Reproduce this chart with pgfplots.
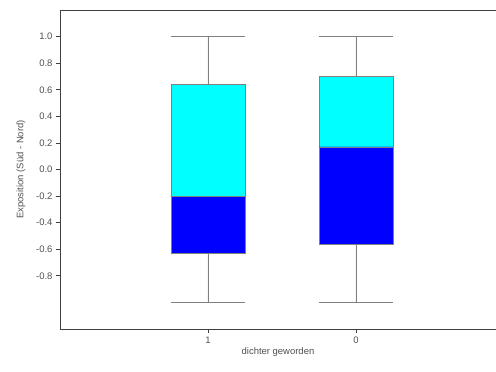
\documentclass[border=0pt]{standalone}
\usepackage{pgfplots}
\pgfplotsset{compat=1.18}
\usepgfplotslibrary{statistics}
\usepackage{fontspec}
\setmainfont{Liberation Sans}
\definecolor{axgray}{HTML}{404040}
\definecolor{txtgray}{HTML}{505050}
\definecolor{boxedge}{HTML}{808080}
\definecolor{cyanbox}{HTML}{00FFFF}
\definecolor{bluebox}{HTML}{0000FF}
\begin{document}
\begin{tikzpicture}
\begin{axis}[
  scale only axis,
  width=436bp, height=319bp,
  xmin=0, xmax=2.946,
  ymin=-1.2, ymax=1.2,
  axis lines=left,
  axis line style={-, axgray, line width=1pt},
  ytick={-0.8,-0.6,-0.4,-0.2,0,0.2,0.4,0.6,0.8,1.0},
  yticklabel style={/pgf/number format/.cd, fixed, fixed zerofill, precision=1, assume math mode=true},
  xtick={1,2}, xticklabels={1,0},
  tick align=outside,
  major tick length=4bp,
  tick style={axgray, line width=0.8pt},
  ticklabel style={font=\fontsize{9.5}{11}\selectfont, text=txtgray},
  ylabel={Exposition (Süd - Nord)},
  xlabel={dichter geworden},
  label style={font=\fontsize{9.5}{11}\selectfont, text=txtgray},
  ylabel style={yshift=4bp},
  xlabel style={yshift=2bp},
  clip=false,
  boxplot/draw direction=y,
  boxplot/box extend=0.5,
  boxplot/whisker extend=0.5,
]
% full boxes (cyan) with whiskers
\addplot+[boxplot prepared={draw position=1, lower whisker=-1.0, lower quartile=-0.632, median=-0.2, upper quartile=0.638, upper whisker=1.0},
  fill=cyanbox, draw=boxedge, line width=0.6pt, solid, mark=none] coordinates {};
\addplot+[boxplot prepared={draw position=2, lower whisker=-1.0, lower quartile=-0.56, median=0.17, upper quartile=0.704, upper whisker=1.0},
  fill=cyanbox, draw=boxedge, line width=0.6pt, solid, mark=none] coordinates {};
% lower part (blue) from lower quartile to median
\addplot+[boxplot prepared={draw position=1, lower whisker=-0.632, lower quartile=-0.632, median=-0.2, upper quartile=-0.2, upper whisker=-0.2},
  fill=bluebox, draw=boxedge, line width=0.6pt, solid, mark=none] coordinates {};
\addplot+[boxplot prepared={draw position=2, lower whisker=-0.56, lower quartile=-0.56, median=0.17, upper quartile=0.17, upper whisker=0.17},
  fill=bluebox, draw=boxedge, line width=0.6pt, solid, mark=none] coordinates {};
\draw[axgray, line width=1pt] (rel axis cs:0,1) -- (rel axis cs:1,1);
\end{axis}
\pgfresetboundingbox
\path[use as bounding box] (-60bp,-43bp) rectangle (436bp,329bp);
\end{tikzpicture}
\end{document}
